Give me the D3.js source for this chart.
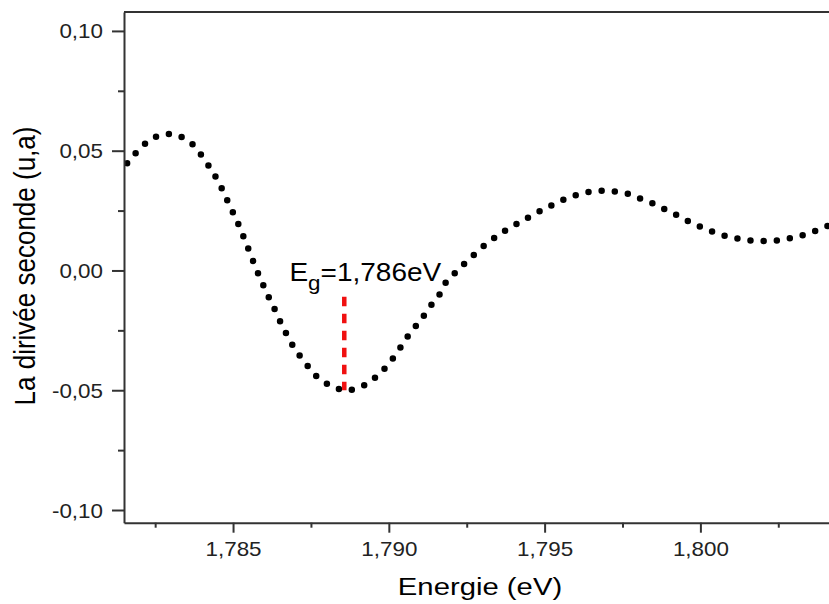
<!DOCTYPE html>
<html>
<head>
<meta charset="utf-8">
<script src="https://cdn.jsdelivr.net/npm/d3@7"></script>
<style>
  body { margin: 0; background: #fff; }
  svg { display: block; }
  text { font-family: "Liberation Sans", Arial, sans-serif; }
</style>
</head>
<body>
<svg id="chart" width="829" height="604"></svg>
<script>
// second derivative curve
var energy = [1.78160, 1.78187, 1.78216, 1.78253, 1.78295, 1.78336, 1.78372, 1.78397, 1.78420,
  1.78443, 1.78462, 1.78479, 1.78496, 1.78513, 1.78529, 1.78543, 1.78558, 1.78572, 1.78588,
  1.78604, 1.78620, 1.78638, 1.78655, 1.78674, 1.78694, 1.78718, 1.78743, 1.78769, 1.78803,
  1.78842, 1.78864, 1.78887, 1.78927, 1.78962, 1.78992, 1.79017, 1.79039, 1.79060, 1.79087,
  1.79114, 1.79138, 1.79163, 1.79181, 1.79208, 1.79238, 1.79269, 1.79300, 1.79333, 1.79368,
  1.79405, 1.79443, 1.79480, 1.79518, 1.79557, 1.79600, 1.79642, 1.79686, 1.79730, 1.79774,
  1.79815, 1.79854, 1.79894, 1.79932, 1.79970, 1.80010, 1.80051, 1.80093, 1.80136, 1.80181,
  1.80226, 1.80269, 1.80311, 1.80354, 1.80395, 1.80449];
var deriv2 = [0.04476, 0.04894, 0.05269, 0.05587, 0.05699, 0.05562, 0.05240, 0.04835, 0.04405,
  0.03933, 0.03474, 0.02998, 0.02526, 0.02054, 0.01553, 0.01094, 0.00618, 0.00134, -0.00355,
  -0.00814, -0.01273, -0.01733, -0.02234, -0.02714, -0.03182, -0.03624, -0.04042, -0.04434, -0.04739,
  -0.04960, -0.05020, -0.04960, -0.04752, -0.04405, -0.04017, -0.03599, -0.03182, -0.02764, -0.02317,
  -0.01858, -0.01411, -0.00994, -0.00534, -0.00159, 0.00230, 0.00605, 0.00969, 0.01303, 0.01620,
  0.01900, 0.02180, 0.02443, 0.02693, 0.02931, 0.03140, 0.03278, 0.03332, 0.03290, 0.03182,
  0.02956, 0.02764, 0.02497, 0.02263, 0.01996, 0.01775, 0.01566, 0.01399, 0.01303, 0.01232,
  0.01232, 0.01303, 0.01411, 0.01578, 0.01787, 0.02067];

var xTicks = [1.785, 1.790, 1.795, 1.800];
var xMinor = [1.7825, 1.7875, 1.7925, 1.7975, 1.8025];
var yTicks = [-0.10, -0.05, 0.00, 0.05, 0.10];
var yMinor = [-0.075, -0.025, 0.025, 0.075];

// band gap marker
var egEnergy = 1.78857;
var egRange = [-0.0110, -0.0500];
var egLabel = { main: 'E', sub: 'g', rest: '=1,786eV', x: 1.78681, y: -0.00438 };

var xTitle = 'Energie (eV)';
var yTitle = 'La dirivée seconde (u,a)';

var M = { left: 124, top: 12, right: 840.6, bottom: 522.7 };

var loc = d3.formatLocale({ decimal: ',', thousands: '.', grouping: [3], currency: ['', ''], minus: '-' });
var fx = loc.format('.3f');
var fy = loc.format('.2f');

var svg = d3.select('#chart');

var x = d3.scaleLinear().domain([1.7815, 1.8045]).range([M.left, M.right]);
var y = d3.scaleLinear().domain([-0.1053, 0.1079]).range([M.bottom, M.top]);

svg.append('defs').append('clipPath').attr('id', 'plot-clip')
  .append('rect')
  .attr('x', M.left).attr('y', M.top)
  .attr('width', M.right - M.left).attr('height', M.bottom - M.top);

// dotted curve (line drawn with round dots)
var line = d3.line()
  .x(function(d) { return x(d[0]); })
  .y(function(d) { return y(d[1]); })
  .curve(d3.curveMonotoneX);

svg.append('path')
  .datum(d3.zip(energy, deriv2))
  .attr('clip-path', 'url(#plot-clip)')
  .attr('d', line)
  .attr('fill', 'none')
  .attr('stroke', '#000')
  .attr('stroke-width', 6.5)
  .attr('stroke-linecap', 'round')
  .attr('stroke-dasharray', '0 13.2');

// red dashed marker
svg.append('line')
  .attr('x1', x(egEnergy)).attr('x2', x(egEnergy))
  .attr('y1', y(egRange[0])).attr('y2', y(egRange[1]))
  .attr('stroke', '#f01010')
  .attr('stroke-width', 4.5)
  .attr('stroke-dasharray', '9.5 7.5');

var lab = svg.append('text')
  .attr('transform', 'translate(' + x(egLabel.x) + ',' + y(egLabel.y) + ') scale(1.12,1)')
  .style('font-size', '25px')
  .attr('fill', '#000');
lab.append('tspan').text(egLabel.main);
lab.append('tspan').attr('dy', 9).style('font-size', '20px').text(egLabel.sub);
lab.append('tspan').attr('dy', -9).text(egLabel.rest);

// frame: top border
svg.append('line')
  .attr('x1', M.left).attr('x2', M.right)
  .attr('y1', M.top).attr('y2', M.top)
  .attr('stroke', '#333').attr('stroke-width', 2);

// axes
function styleAxis(g) {
  g.select('.domain').attr('stroke', '#333').attr('stroke-width', 2);
  g.selectAll('.tick line').attr('stroke', '#333').attr('stroke-width', 2);
}

var gy = svg.append('g')
  .attr('transform', 'translate(' + M.left + ',0)')
  .call(d3.axisLeft(y).tickValues(yTicks).tickSize(12).tickSizeOuter(0).tickFormat(fy));
styleAxis(gy);
gy.selectAll('.tick text')
  .attr('x', null).attr('dy', null)
  .attr('y', null)
  .attr('transform', 'translate(-21,7) scale(1.12,1)')
  .attr('fill', '#222')
  .style('font-size', '20px')
  .style('font-family', '"Liberation Sans", Arial, sans-serif');

var gym = svg.append('g')
  .attr('transform', 'translate(' + M.left + ',0)')
  .call(d3.axisLeft(y).tickValues(yMinor).tickSize(6).tickFormat(''));
gym.select('.domain').remove();
styleAxis(gym);

var gx = svg.append('g')
  .attr('transform', 'translate(0,' + M.bottom + ')')
  .call(d3.axisBottom(x).tickValues(xTicks).tickSize(10).tickSizeOuter(0).tickFormat(fx));
styleAxis(gx);
gx.selectAll('.tick text')
  .attr('y', null).attr('dy', null)
  .attr('transform', 'translate(0,33.5) scale(1.12,1)')
  .attr('fill', '#222')
  .style('font-size', '20px')
  .style('font-family', '"Liberation Sans", Arial, sans-serif');

var gxm = svg.append('g')
  .attr('transform', 'translate(0,' + M.bottom + ')')
  .call(d3.axisBottom(x).tickValues(xMinor).tickSize(5).tickFormat(''));
gxm.select('.domain').remove();
styleAxis(gxm);

// axis titles
svg.append('text')
  .attr('transform', 'translate(480,595) scale(1.22,1)')
  .attr('text-anchor', 'middle')
  .style('font-size', '24px')
  .text(xTitle);

svg.append('text')
  .attr('transform', 'translate(35,266) scale(1.13,1) rotate(-90)')
  .attr('text-anchor', 'middle')
  .style('font-size', '26px')
  .text(yTitle);
</script>
</body>
</html>
